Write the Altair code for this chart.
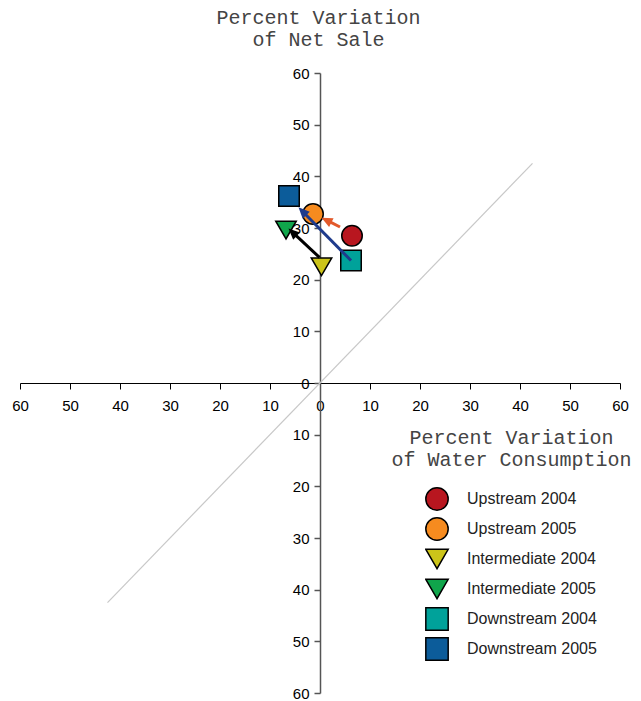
import altair as alt
import numpy as np
import pandas as pd

# ---- data ----
series = ["Upstream 2004", "Upstream 2005", "Intermediate 2004",
          "Intermediate 2005", "Downstream 2004", "Downstream 2005"]
water = [6.4, -1.4, 0.3, -6.8, 6.2, -6.2]      # % variation of water consumption
sales = [28.5, 32.7, 22.5, 29.6, 23.7, 36.2]   # % variation of net sale
shapes = ["circle", "circle", "triangle-down", "triangle-down", "square", "square"]
colors = ["#B8161F", "#F68B1F", "#CCC41A", "#10A54B", "#00A29A", "#0C5C9A"]

arrow_names = ["Upstream", "Downstream", "Intermediate"]
arrow_x0 = [4.0, 6.2, -0.1]
arrow_y0 = [30.2, 23.7, 24.3]
arrow_x1 = [0.3, -4.3, -6.3]
arrow_y1 = [32.0, 34.0, 29.9]
arrow_colors = ["#E2592A", "#1F3B8C", "#000000"]

diag_x = [-42.5, 42.5]
diag_y = [-42.5, 42.5]
tick_values = list(range(-60, 61, 10))

W, H = 600, 620
DOM = [-60, 60]
kx, ky = W / 120.0, H / 120.0
HEAD = 9.0

pts = pd.DataFrame({"series": series, "water": water, "sales": sales})
diag = pd.DataFrame({"x": diag_x, "y": diag_y})

arr = pd.DataFrame({"name": arrow_names, "x0": arrow_x0, "y0": arrow_y0,
                    "x1": arrow_x1, "y1": arrow_y1, "color": arrow_colors})
dxp = (arr["x1"] - arr["x0"]) * kx
dyp = (arr["y1"] - arr["y0"]) * ky
L = np.hypot(dxp, dyp)
arr["xe"] = arr["x1"] - (arr["x1"] - arr["x0"]) * HEAD / L
arr["ye"] = arr["y1"] - (arr["y1"] - arr["y0"]) * HEAD / L
arr["angle"] = (np.degrees(np.arctan2(dxp, dyp)) + 360) % 360

xs = alt.Scale(domain=DOM, nice=False, zero=False)
ys = alt.Scale(domain=DOM, nice=False, zero=False)

x_axis = alt.Axis(
    values=tick_values, labelExpr="abs(datum.value)", orient="bottom",
    offset=-H / 2, grid=False, domainColor="#000000", domainWidth=1,
    tickColor="#000000", tickSize=6, tickWidth=1,
    labelFont="Liberation Sans", labelFontSize=15, labelColor="#000000",
    labelPadding=9, labelFlush=False, labelOverlap=False, labelBound=False,
    title=["Percent Variation", "of Water Consumption"],
    titleFont="Liberation Mono", titleFontSize=20, titleFontWeight="normal",
    titleColor="#444444", titleX=491, titleY=60, titleAlign="center",
    titleBaseline="alphabetic", titleLineHeight=22, titleAngle=0,
)
y_axis = alt.Axis(
    values=tick_values, labelExpr="abs(datum.value)", orient="left",
    offset=-W / 2, grid=False, domainColor="#555555", domainWidth=1.5,
    tickColor="#555555", tickSize=6, tickWidth=1.5,
    labelFont="Liberation Sans", labelFontSize=15, labelColor="#000000",
    labelPadding=5, labelFlush=False, labelOverlap=False, labelBound=False,
    title=["Percent Variation", "of Net Sale"],
    titleFont="Liberation Mono", titleFontSize=20, titleFontWeight="normal",
    titleColor="#444444", titleX=-2, titleY=-50, titleAlign="center",
    titleBaseline="alphabetic", titleLineHeight=22, titleAngle=0,
)

diag_layer = alt.Chart(diag).mark_line(color="#C8C8C8", strokeWidth=1.2).encode(
    x=alt.X("x:Q", scale=xs, axis=x_axis),
    y=alt.Y("y:Q", scale=ys, axis=y_axis),
)

point_layer = alt.Chart(pts).mark_point(
    filled=True, opacity=1, size=420, stroke="#000000", strokeWidth=1.5
).encode(
    x=alt.X("water:Q", scale=xs, axis=x_axis),
    y=alt.Y("sales:Q", scale=ys, axis=y_axis),
    color=alt.Color("series:N", scale=alt.Scale(domain=series, range=colors),
                    legend=alt.Legend(
                        orient="none", legendX=405, legendY=413, title=None,
                        symbolSize=500, symbolStrokeColor="#000000",
                        symbolStrokeWidth=1.5, symbolOpacity=1,
                        labelFont="Liberation Sans", labelFontSize=16,
                        labelColor="#222222", rowPadding=4, clipHeight=26,
                        labelOffset=18, padding=0)),
    shape=alt.Shape("series:N", scale=alt.Scale(domain=series, range=shapes)),
)

arrow_lines = alt.Chart(arr).mark_rule(strokeWidth=3, strokeCap="butt").encode(
    x=alt.X("x0:Q", scale=xs, axis=x_axis),
    y=alt.Y("y0:Q", scale=ys, axis=y_axis),
    x2="xe:Q", y2="ye:Q",
    color=alt.Color("color:N", scale=None, legend=None),
)

arrow_heads = alt.Chart(arr).mark_point(
    shape="M0,0L-0.45,1L0.45,1Z", filled=True, opacity=1, size=484
).encode(
    x=alt.X("x1:Q", scale=xs, axis=x_axis),
    y=alt.Y("y1:Q", scale=ys, axis=y_axis),
    angle=alt.Angle("angle:Q", scale=None),
    color=alt.Color("color:N", scale=None, legend=None),
)

chart = alt.layer(diag_layer, point_layer, arrow_lines, arrow_heads).resolve_scale(
    color="independent", shape="independent"
).properties(
    width=W, height=H,
    autosize=alt.AutoSizeParams(type="none"),
    padding={"left": 12, "top": 65, "right": 13, "bottom": 8},
).configure_view(stroke=None)

chart.save("out.html", embed_options={"renderer": "svg", "actions": False})
